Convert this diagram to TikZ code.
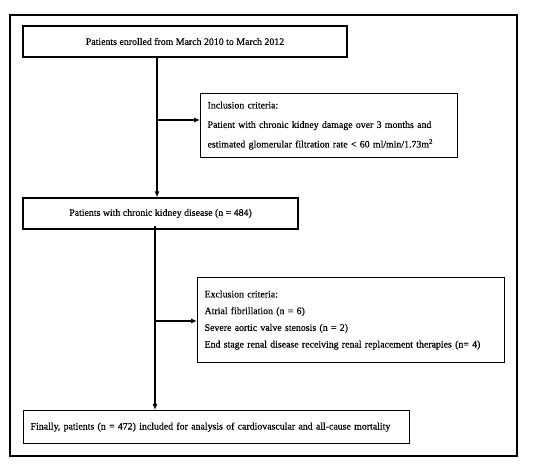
\documentclass[tikz,border=0pt]{standalone}
\usepackage{fontspec}
\setmainfont[FakeBold=0.35]{Liberation Serif}
\usetikzlibrary{arrows.meta}
\begin{document}
\begin{tikzpicture}[x=1pt,y=-1pt,
  box/.style={draw,line width=1.2pt,rectangle,inner sep=0pt,font=\fontsize{9.85}{12}\selectfont},
  arr/.style={line width=1.1pt,-{Latex[length=6pt,width=5pt]}}]
\useasboundingbox[fill=white] (0,0) rectangle (550,465);
\draw[line width=1.3pt] (10,15) rectangle (517,456);
\node[box,minimum width=324pt,minimum height=31pt] (b1) at (185,41.5) {Patients enrolled from March 2010 to March 2012};
\node[box,anchor=north west,minimum width=257pt,minimum height=64pt,text width=243pt,align=left,inner xsep=7pt,font=\fontsize{9.85}{19.5}\selectfont] (inc) at (200,93)
  {Inclusion criteria:\\Patient with chronic kidney damage over 3 months and\\estimated glomerular filtration rate \textless{} 60 ml/min/1.73m\textsuperscript{2}};
\node[box,minimum width=275pt,minimum height=31pt] (b2) at (160.5,213.5) {Patients with chronic kidney disease (n = 484)};
\node[box,anchor=north west,minimum width=307pt,minimum height=85pt,text width=293pt,align=left,inner xsep=7pt,font=\fontsize{9.85}{16.7}\selectfont] (exc) at (197,277)
  {Exclusion criteria:\\Atrial fibrillation (n = 6)\\Severe aortic valve stenosis (n = 2)\\End stage renal disease receiving renal replacement therapies (n= 4)};
\node[box,anchor=north west,minimum width=386pt,minimum height=33pt,text width=372pt,align=left,inner xsep=7pt] (b3) at (23,410)
  {Finally, patients (n = 472) included for analysis of cardiovascular and all-cause mortality};
\coordinate (t1) at (157,120);
\coordinate (t2) at (155,321);
\draw[arr] (b1.south -| t1) -- (b2.north -| t1);
\draw[arr] (t1) -- (t1 -| inc.west);
\draw[arr] ([yshift=4pt]b2.south -| t2) -- (b3.north -| t2);
\draw[arr] (t2) -- (t2 -| exc.west);
\end{tikzpicture}
\end{document}
